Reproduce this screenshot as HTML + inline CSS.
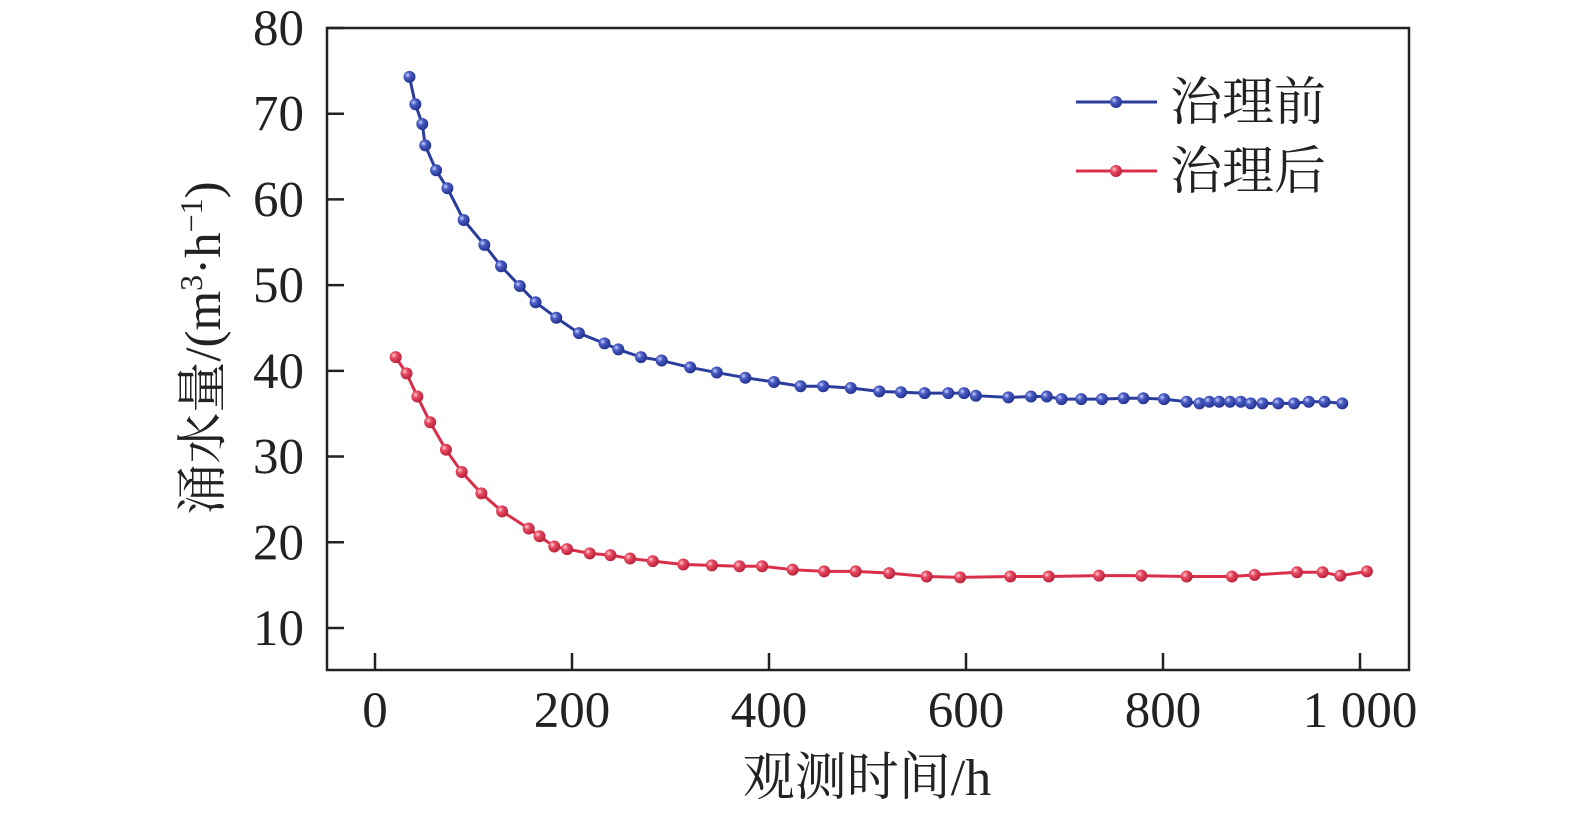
<!DOCTYPE html>
<html><head><meta charset="utf-8"><style>
html,body{margin:0;padding:0;background:#fff;}
svg text{font-family:"Liberation Serif","Noto Serif CJK SC",serif;fill:#222;}
</style></head><body>
<svg id="chart" width="1575" height="814" xmlns="http://www.w3.org/2000/svg">
<defs>
<radialGradient id="gb" cx="0.35" cy="0.35" r="0.7"><stop offset="0" stop-color="#c8d0ff"/><stop offset="0.35" stop-color="#4a5cc4"/><stop offset="1" stop-color="#1f2f8a"/></radialGradient>
<radialGradient id="gr" cx="0.35" cy="0.35" r="0.7"><stop offset="0" stop-color="#ffd0d8"/><stop offset="0.35" stop-color="#e84a62"/><stop offset="1" stop-color="#b51f38"/></radialGradient>
</defs>
<g id="plot"></g>
</svg>
<script>
const xTicks=[0,200,400,600,800,1000];
const xTickLabels=["0","200","400","600","800","1 000"];
const yTicks=[10,20,30,40,50,60,70,80];
const beforeX=[35,41,48,51,62,73.5,90,111,128,147,163,184,207,233,247,270,291,320,347,376,405,432,455,483,512,534,558,582,598,610,643,666,682,697,717,738,760,780,801,824,837,847,857,868,879,889,901,917,933,948,964,982];
const beforeY=[74.3,71.1,68.8,66.3,63.4,61.3,57.6,54.7,52.2,49.9,48.0,46.2,44.4,43.2,42.5,41.6,41.2,40.4,39.8,39.2,38.7,38.2,38.2,38.0,37.6,37.5,37.4,37.4,37.4,37.1,36.9,37.0,37.0,36.7,36.7,36.7,36.8,36.8,36.7,36.4,36.2,36.4,36.4,36.4,36.4,36.2,36.2,36.2,36.2,36.4,36.4,36.2];
const afterX=[21,32,43,56,72,88,108,129,156,167,182,195,218,239,259,282,313,342,370,393,424,456,488,522,560,594,645,684,735,778,824,870,893,936,962,980,1007];
const afterY=[41.6,39.7,37.0,34.0,30.8,28.2,25.7,23.6,21.6,20.7,19.5,19.2,18.7,18.5,18.1,17.8,17.4,17.3,17.2,17.2,16.8,16.6,16.6,16.4,16.0,15.9,16.0,16.0,16.1,16.1,16.0,16.0,16.2,16.5,16.5,16.1,16.6];

const NS="http://www.w3.org/2000/svg";
const g=document.getElementById('plot');
const L=327,R=1409,T=28,B=670;
const sx=v=>375+v*0.985;
const sy=v=>28+(80-v)*8.571;
function el(t,a,txt){const e=document.createElementNS(NS,t);for(const k in a)e.setAttribute(k,a[k]);if(txt!==undefined)e.textContent=txt;g.appendChild(e);return e;}

let e=el('rect',{x:L,y:T,width:R-L,height:B-T,fill:'none',stroke:'#222','stroke-width':2.5});


xTicks.forEach((v,i)=>{
  let t=el('line',{x1:sx(v),x2:sx(v),y1:B,y2:B-17,stroke:'#222','stroke-width':2.5});
  
  
  let lb=el('text',{x:sx(v),y:B+57,'font-size':51,'text-anchor':'middle'},xTickLabels[i]);
  
  
});
yTicks.forEach(v=>{
  let t=el('line',{x1:L,x2:L+17,y1:sy(v),y2:sy(v),stroke:'#222','stroke-width':2.5});
  
  
  let lb=el('text',{x:L-23,y:sy(v)+17,'font-size':51,'text-anchor':'end'},String(v));
  
  
});
function series(xs,ys,col,grad,name){
  let p=el('polyline',{points:xs.map((x,i)=>sx(x)+','+sy(ys[i])).join(' '),fill:'none',stroke:col,'stroke-width':3});
  
  
  xs.forEach((x,i)=>{
    let c=el('circle',{cx:sx(x),cy:sy(ys[i]),r:6,fill:'url(#'+grad+')'});
    
    
  });
}
series(beforeX,beforeY,'#2a3d9c','gb','before');
series(afterX,afterY,'#d8304a','gr','after');

[['治理前','#2a3d9c','gb',102],['治理后','#d8304a','gr',171]].forEach(([t,c,gr,y],i)=>{
  let l=el('line',{x1:1076,x2:1157,y1:y,y2:y,stroke:c,'stroke-width':3});
  
  
  let d=el('circle',{cx:1116,cy:y,r:6,fill:'url(#'+gr+')'});
  
  
  let tx=el('text',{x:1170,y:y+18,'font-size':52},t);
  
  
});

let xt=el('text',{x:867,y:795,'font-size':52,'text-anchor':'middle'},'观测时间/h');


let yt=el('text',{x:0,y:0,'font-size':51,'text-anchor':'middle',transform:'translate(220,348) rotate(-90)'});


yt.innerHTML='涌水量/(m<tspan font-size="32" dy="-18">3</tspan><tspan dy="18">·h</tspan><tspan font-size="32" dy="-18">−1</tspan><tspan dy="18">)</tspan>';
</script>
</body></html>
